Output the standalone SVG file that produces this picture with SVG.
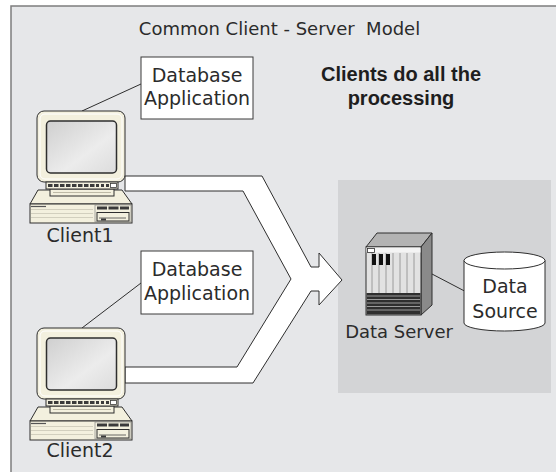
<svg xmlns="http://www.w3.org/2000/svg" xmlns:xlink="http://www.w3.org/1999/xlink" width="556" height="472" viewBox="0 0 556 472">
  <style>
    .lbl { font-family: "DejaVu Sans", "Liberation Sans", sans-serif; font-size: 19px; fill: #2b2b2b; text-anchor: middle; }
    .title { font-family: "DejaVu Sans", "Liberation Sans", sans-serif; font-size: 18px; fill: #2b2b2b; text-anchor: middle; }
    .bold { font-family: "Liberation Sans", Arial, sans-serif; font-size: 20px; font-weight: bold; fill: #1e1e1e; text-anchor: middle; }
    .box { fill: #ffffff; stroke: #3a3a3a; stroke-width: 1; }
    .wire { fill: none; stroke: #2e2e2e; stroke-width: 1; }
    .ink { stroke: #2e2e2e; stroke-width: 1; }
    .beige { fill: #f3f0de; }
  </style>
  <defs>
    <linearGradient id="screen" x1="0" y1="0" x2="1" y2="1">
      <stop offset="0" stop-color="#cfcfcf"/>
      <stop offset="0.6" stop-color="#ececec"/>
      <stop offset="1" stop-color="#dcdcdc"/>
    </linearGradient>
    <!-- desktop computer: monitor on a horizontal case -->
    <g id="pc">
      <rect class="beige ink" x="37" y="111" width="88" height="71" rx="7"/>
      <rect x="40" y="114" width="82" height="65" rx="5" fill="none" stroke="#ffffff" stroke-width="1"/>
      <rect x="46.5" y="121" width="70" height="52" rx="4" fill="url(#screen)" stroke="#2e2e2e" stroke-width="1.5"/>
      <!-- case -->
      <polygon class="beige ink" points="38,190 122,190 132,204 30,204" fill="#ebe7d2"/>
      <rect class="beige ink" x="30" y="204" width="102" height="19"/>
      <line x1="31" y1="206.5" x2="46" y2="206.5" stroke="#555" stroke-width="1.2"/>
      <g stroke="#c9c6b6" stroke-width="0.8">
        <line x1="31" y1="209.5" x2="93" y2="209.5"/>
        <line x1="31" y1="213.5" x2="93" y2="213.5"/>
        <line x1="31" y1="217.5" x2="93" y2="217.5"/>
      </g>
      <rect x="95" y="205" width="36" height="17" fill="none" stroke="#777" stroke-width="0.6"/>
      <rect x="97" y="206.5" width="10" height="3" fill="#3a3a3a"/>
      <rect x="108.5" y="206.5" width="10" height="3" fill="#3a3a3a"/>
      <rect x="120" y="206.5" width="9" height="3" fill="#3a3a3a"/>
      <rect class="beige ink" x="97" y="212.5" width="32" height="8.5"/>
      <line x1="99" y1="218" x2="126" y2="218" stroke="#444" stroke-width="0.8"/>
      <rect x="101" y="218.5" width="5" height="2" fill="#3a3a3a"/>
      <!-- stand and control strip -->
      <rect class="beige ink" x="50" y="189" width="64" height="7"/>
      <line x1="53" y1="192.5" x2="111" y2="192.5" stroke="#bdb9a6" stroke-width="1"/>
      <rect class="beige ink" x="46" y="182" width="72" height="7"/>
      <line x1="48" y1="185.5" x2="99" y2="185.5" stroke="#3a3a3a" stroke-width="3" stroke-dasharray="4.5 1.5"/>
      <rect x="101" y="184" width="3" height="3" fill="#3a3a3a"/>
      <rect x="106" y="184" width="3" height="3" fill="#3a3a3a"/>
      <rect x="110.5" y="183.5" width="6" height="4" fill="#ffffff" stroke="#3a3a3a" stroke-width="0.8"/>
    </g>
  </defs>

  <!-- panel -->
  <rect x="11" y="6" width="560" height="480" fill="#e6e7e9" stroke="#7d7d7d" stroke-width="1.5"/>
  <rect x="338" y="180" width="213" height="213" fill="#d3d4d6"/>

  <text class="title" x="279.5" y="35" xml:space="preserve">Common Client - Server  Model</text>
  <text class="bold" x="401" y="81">Clients do all the</text>
  <text class="bold" x="401" y="105">processing</text>

  <g id="connectors">
    <line class="wire" x1="141" y1="84" x2="82" y2="111"/>
    <line class="wire" x1="141" y1="283" x2="82" y2="328"/>
    <line class="wire" x1="432" y1="274" x2="464.5" y2="291"/>
    <!-- merging block arrow from both clients to the server -->
    <path d="M125,176 L262,176 L311,267 L319,267 L319,253 L342,280 L319,305 L319,291 L311,291 L253,383 L125,383 L125,367 L237,367 L291,279 L243,191 L125,191 Z" fill="#ffffff" stroke="#2e2e2e" stroke-width="1"/>
  </g>

  <g id="app1">
    <rect class="box" x="141" y="57" width="112" height="62"/>
    <text class="lbl" x="197" y="82">Database</text>
    <text class="lbl" x="197" y="105">Application</text>
  </g>

  <g id="app2">
    <rect class="box" x="141" y="251" width="112" height="63"/>
    <text class="lbl" x="197" y="276">Database</text>
    <text class="lbl" x="197" y="300">Application</text>
  </g>

  <g id="client1">
    <use xlink:href="#pc"/>
    <text class="lbl" x="80" y="242">Client1</text>
  </g>

  <g id="client2">
    <use xlink:href="#pc" transform="translate(0,217)"/>
    <text class="lbl" x="80" y="457">Client2</text>
  </g>

  <g id="server">
    <polygon points="366,247 377,233 432,233 421,247" fill="#b3b3b3" stroke="#2e2e2e" stroke-width="1"/>
    <polygon points="421,247 432,233 432,305 421,315" fill="#8a8a8a" stroke="#2e2e2e" stroke-width="1"/>
    <rect x="366" y="247" width="55" height="68" fill="#e2e2e2" stroke="#2e2e2e" stroke-width="1"/>
    <rect x="366.5" y="247.5" width="54" height="5" fill="#f4f4f4"/>
    <rect x="367.5" y="248.5" width="7" height="4" fill="#ffffff" stroke="#2e2e2e" stroke-width="0.8"/>
    <g stroke="#8a8a8a" stroke-width="0.8">
      <line x1="372" y1="253" x2="372" y2="293"/>
      <line x1="379" y1="253" x2="379" y2="293"/>
      <line x1="386" y1="253" x2="386" y2="293"/>
      <line x1="393" y1="253" x2="393" y2="293"/>
      <line x1="400" y1="253" x2="400" y2="293"/>
      <line x1="407" y1="253" x2="407" y2="293"/>
      <line x1="414" y1="253" x2="414" y2="293"/>
    </g>
    <rect x="372" y="254" width="4" height="11" fill="#111"/>
    <rect x="379" y="254" width="4" height="11" fill="#111"/>
    <rect x="386" y="254" width="4" height="11" fill="#111"/>
    <rect x="366.5" y="293" width="54" height="21.5" fill="#2f2f2f"/>
    <g stroke="#b8b8b8" stroke-width="0.8">
      <line x1="367" y1="296" x2="420" y2="296"/>
      <line x1="367" y1="299.5" x2="420" y2="299.5"/>
      <line x1="367" y1="303" x2="420" y2="303"/>
      <line x1="367" y1="306.5" x2="420" y2="306.5"/>
      <line x1="367" y1="310" x2="420" y2="310"/>
    </g>
    <text class="lbl" x="399" y="338" style="font-size:18px">Data Server</text>
  </g>

  <g id="datasource">
    <path d="M464,260.5 L464,323 A40.5,8 0 0 0 545,323 L545,260.5" fill="#ffffff" stroke="#2e2e2e" stroke-width="1"/>
    <ellipse cx="504.5" cy="260.5" rx="40.5" ry="8.5" fill="#ffffff" stroke="#2e2e2e" stroke-width="1"/>
    <text class="lbl" x="505" y="293">Data</text>
    <text class="lbl" x="505" y="318">Source</text>
  </g>
</svg>
